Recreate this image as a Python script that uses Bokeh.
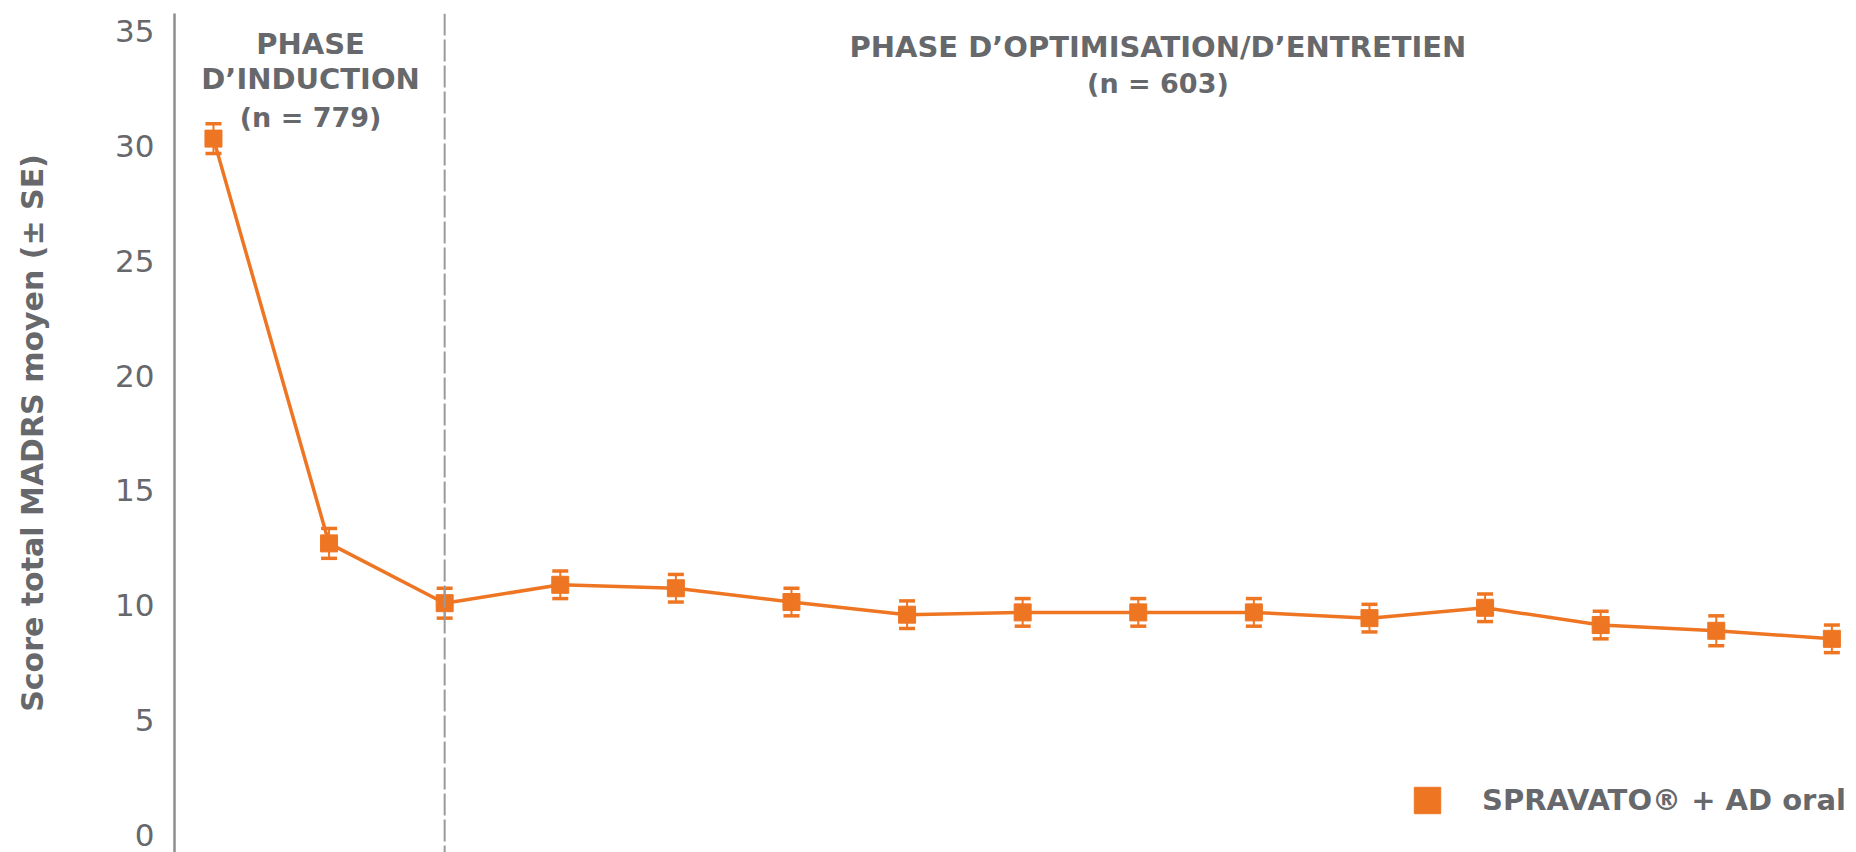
from bokeh.plotting import figure
from bokeh.models import (ColumnDataSource, Whisker, TeeHead, Span, Legend,
                          LegendItem, FixedTicker, Range1d)
from bokeh.embed import file_html
from bokeh.resources import INLINE
from bokeh.core.properties import value

# ---------------- data ----------------
visits = list(range(15))
madrs = [30.3, 12.7, 10.1, 10.9, 10.75, 10.15, 9.6, 9.7, 9.7, 9.7, 9.45, 9.9, 9.15, 8.9, 8.55]
se = [0.65, 0.65, 0.65, 0.6, 0.6, 0.6, 0.6, 0.6, 0.6, 0.6, 0.6, 0.6, 0.6, 0.65, 0.6]
y_ticks = [0, 5, 10, 15, 20, 25, 30, 35]
phase_boundary = 2
induction_lines = ["PHASE", "D\u2019INDUCTION", "(n = 779)"]
maint_lines = ["PHASE D\u2019OPTIMISATION/D\u2019ENTRETIEN", "(n = 603)"]
series_label = "SPRAVATO\u00ae + AD oral"

ORANGE = "#EE7623"
GRAY = "#66686c"
FONT = "DejaVu Sans"

lower = [m - s for m, s in zip(madrs, se)]
upper = [m + s for m, s in zip(madrs, se)]
src = ColumnDataSource(dict(x=visits, y=madrs, lower=lower, upper=upper))

p = figure(width=1856, height=852,
           x_range=Range1d(-0.337, 14.213), y_range=Range1d(-0.74, 35.74),
           output_backend="svg", toolbar_location=None,
           x_axis_location=None,
           min_border_left=174, min_border_right=0,
           min_border_top=13, min_border_bottom=0)
p.outline_line_color = None
p.xgrid.visible = False
p.ygrid.visible = False
p.background_fill_color = "white"
p.border_fill_color = "white"

ax = p.yaxis[0]
ax.ticker = FixedTicker(ticks=y_ticks)
ax.axis_line_color = "#8e8e8e"
ax.axis_line_width = 2.5
ax.major_tick_line_color = None
ax.minor_tick_line_color = None
ax.major_tick_in = 0
ax.major_tick_out = 0
ax.major_label_standoff = 20
ax.major_label_text_font = FONT
ax.major_label_text_font_size = "31px"
ax.major_label_text_color = GRAY
ax.axis_label = "Score total MADRS moyen (\u00b1 SE)"
ax.axis_label_text_font = FONT
ax.axis_label_text_font_size = "30px"
ax.axis_label_text_font_style = "bold"
ax.axis_label_text_color = GRAY
ax.axis_label_standoff = 62

# phase separator
p.add_layout(Span(location=phase_boundary, dimension="height",
                  line_color="#9a9a9a", line_width=2, line_dash="22 4"))

# series
p.line("x", "y", source=src, line_color=ORANGE, line_width=3.5)
p.add_layout(Whisker(source=src, base="x", lower="lower", upper="upper",
                     line_color=ORANGE, line_width=2,
                     upper_head=TeeHead(size=16, line_color=ORANGE, line_width=3.5),
                     lower_head=TeeHead(size=16, line_color=ORANGE, line_width=3.5)))
r_pts = p.scatter("x", "y", source=src, marker="square", size=17,
                  fill_color=ORANGE, line_color=ORANGE)

# phase labels
ind_y = [34.4, 32.9, 31.2]
for i, t in enumerate(induction_lines):
    p.text(x=[0.84], y=[ind_y[i]], text=[t], text_font=value(FONT),
           text_font_size="29px" if i < 2 else "27px",
           text_font_style="bold",
           text_color=GRAY, text_align="center", text_baseline="middle")
mt_y = [34.3, 32.7]
for i, t in enumerate(maint_lines):
    p.text(x=[8.17], y=[mt_y[i]], text=[t], text_font=value(FONT),
           text_font_size="29px" if i == 0 else "27px",
           text_font_style="bold",
           text_color=GRAY, text_align="center", text_baseline="middle")

# legend (square marker of the series, scaled by legend glyph box)
legend = Legend(items=[LegendItem(label=series_label, renderers=[r_pts])],
                location=(1220, 19), orientation="vertical",
                glyph_width=66, glyph_height=66, label_height=66,
                label_standoff=22, padding=0, margin=0, spacing=0,
                border_line_color=None, background_fill_alpha=0,
                label_text_font=FONT, label_text_font_size="29px",
                label_text_font_style="bold", label_text_color=GRAY)
p.add_layout(legend)

open("out.html", "w").write(file_html(p, INLINE))
